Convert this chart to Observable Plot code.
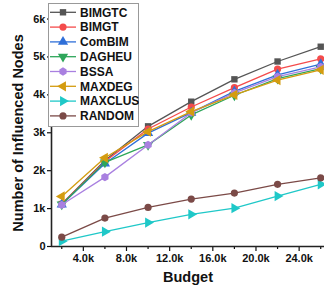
<!DOCTYPE html>
<html>
<head>
<meta charset="utf-8">
<script src="https://cdn.jsdelivr.net/npm/d3@7"></script>
<script src="https://cdn.jsdelivr.net/npm/@observablehq/plot@0.6"></script>
<style>
  html, body { margin: 0; padding: 0; background: #fff; }
  #wrap { position: relative; width: 324px; height: 292px; font-family: "Liberation Sans", Arial, sans-serif; }
  #legend { position: absolute; left: 48px; top: 3px; }
</style>
</head>
<body>
<div id="wrap"></div>
<script>
const budgets = [2000, 6000, 10000, 14000, 18000, 22000, 26000];
const seriesNames = ["BIMGTC", "BIMGT", "ComBIM", "DAGHEU", "BSSA", "MAXDEG", "MAXCLUS", "RANDOM"];
const BIMGTC  = [1120, 2270, 3170, 3820, 4410, 4880, 5270];
const BIMGT   = [1120, 2240, 3100, 3680, 4190, 4680, 4950];
const ComBIM  = [1110, 2190, 2990, 3530, 4090, 4530, 4810];
const DAGHEU  = [1110, 2220, 2680, 3470, 3990, 4430, 4690];
const BSSA    = [1100, 1830, 2680, 3530, 4050, 4480, 4740];
const MAXDEG  = [1320, 2340, 3030, 3560, 4000, 4390, 4660];
const MAXCLUS = [140, 390, 630, 850, 1010, 1330, 1640];
const RANDOM  = [245, 750, 1030, 1250, 1410, 1640, 1810];
const xMajorTicks = [4000, 8000, 12000, 16000, 20000, 24000];
const xMinorTicks = [2000, 6000, 10000, 14000, 18000, 22000, 26000];
const yTicks = [0, 1000, 2000, 3000, 4000, 5000, 6000];
const yTickLabels = ["0", "1k", "2k", "3k", "4k", "5k", "6k"];
const colors = ["#555555", "#f44b4b", "#2f6fd8", "#2ea65a", "#a980e0", "#d49c10", "#1fc8c8", "#7b4a47"];

const values = [BIMGTC, BIMGT, ComBIM, DAGHEU, BSSA, MAXDEG, MAXCLUS, RANDOM];

// custom symbols
const sqrt3 = Math.sqrt(3);
const triDown = { draw(ctx, size) { const y = -Math.sqrt(size / (sqrt3 * 3)); ctx.moveTo(0, -y * 2); ctx.lineTo(-sqrt3 * y, y); ctx.lineTo(sqrt3 * y, y); ctx.closePath(); } };
const triLeft = { draw(ctx, size) { const y = -Math.sqrt(size / (sqrt3 * 3)); ctx.moveTo(y * 2, 0); ctx.lineTo(-y, -sqrt3 * y); ctx.lineTo(-y, sqrt3 * y); ctx.closePath(); } };
const triRight = { draw(ctx, size) { const y = -Math.sqrt(size / (sqrt3 * 3)); ctx.moveTo(-y * 2, 0); ctx.lineTo(y, -sqrt3 * y); ctx.lineTo(y, sqrt3 * y); ctx.closePath(); } };
const hexagon = { draw(ctx, size) { const r = Math.sqrt(size / (1.5 * sqrt3)) * 1.05; for (let i = 0; i < 6; i++) { const a = Math.PI / 6 + i * Math.PI / 3; const px = r * Math.cos(a), py = r * Math.sin(a); if (i === 0) ctx.moveTo(px, py); else ctx.lineTo(px, py); } ctx.closePath(); } };
const symbols = [d3.symbolSquare, d3.symbolCircle, d3.symbolTriangle, triDown, hexagon, triLeft, triRight, d3.symbolCircle];
const radii = [3.6, 3.6, 3.8, 3.8, 3.6, 3.8, 3.8, 3.6];

const rows = [];
seriesNames.forEach((name, i) => {
  budgets.forEach((b, j) => rows.push({ series: name, budget: b, value: values[i][j] }));
});

const marks = [];
seriesNames.forEach((name, i) => {
  const data = rows.filter(d => d.series === name);
  marks.push(Plot.line(data, { x: "budget", y: "value", stroke: colors[i], strokeWidth: 1.3 }));
  marks.push(Plot.dot(data, { x: "budget", y: "value", fill: colors[i], stroke: "none", r: radii[i], symbol: symbols[i] }));
});

const xDomain = [1050, 26350];

const chart = Plot.plot({
  width: 324,
  height: 292,
  marginTop: 3,
  marginRight: 0,
  marginBottom: 46,
  marginLeft: 51,
  style: { fontFamily: '"Liberation Sans", Arial, sans-serif', fontWeight: "bold", fontSize: "11px", color: "#111", background: "white", overflow: "visible" },
  x: { domain: xDomain },
  y: { domain: [0, 6410] },
  marks: [
    Plot.axisX({ ticks: xMinorTicks, tickSize: 3, tickFormat: () => "", label: null, stroke: "#111", strokeWidth: 1.2 }),
    Plot.axisX({ ticks: xMajorTicks, tickSize: 5, tickPadding: 3, tickFormat: d => (d / 1000).toFixed(1) + "k", label: null, fontSize: 11, fill: "#111", stroke: "#111", strokeWidth: 1.2 }),
    Plot.axisY({ ticks: yTicks, tickSize: 4, tickPadding: 2, tickFormat: (d, i) => yTickLabels[yTicks.indexOf(d)], label: null, fontSize: 11, fill: "#111", stroke: "#111", strokeWidth: 1.2 }),
    Plot.ruleY([0], { stroke: "#222", strokeWidth: 1.6 }),
    Plot.ruleX([xDomain[0]], { stroke: "#222", strokeWidth: 1.6 }),
    ...marks,
    Plot.text(["Budget"], { frameAnchor: "bottom", textAnchor: "middle", dy: 35, fontSize: 14.5, fontWeight: "bold", fill: "#111" }),
    Plot.text(["Number of Influenced Nodes"], { frameAnchor: "left", textAnchor: "middle", rotate: -90, dx: -33, dy: 8, fontSize: 14.5, fontWeight: "bold", fill: "#111" })
  ]
});

const wrap = document.getElementById("wrap");
wrap.appendChild(chart);

// legend
const lw = 91, lh = 124;
const leg = d3.select(wrap).append("svg")
  .attr("id", "legend")
  .attr("width", lw).attr("height", lh)
  .style("font-family", '"Liberation Sans", Arial, sans-serif');
leg.append("rect").attr("x", 0.5).attr("y", 0.5).attr("width", lw - 1).attr("height", lh - 1)
  .attr("fill", "white").attr("stroke", "#999").attr("stroke-width", 1);
seriesNames.forEach((name, i) => {
  const cy = 9.3 + i * 14.8;
  const g = leg.append("g");
  g.append("line").attr("x1", 2).attr("x2", 28).attr("y1", cy).attr("y2", cy)
    .attr("stroke", colors[i]).attr("stroke-width", 1.3);
  g.append("path").attr("transform", `translate(15,${cy})`)
    .attr("d", d3.symbol(symbols[i], radii[i] * radii[i] * Math.PI)())
    .attr("fill", colors[i]);
  g.append("text").attr("x", 32).attr("y", cy).attr("dy", "0.36em")
    .attr("font-size", 12).attr("font-weight", "bold").attr("fill", "#111").text(name);
});
</script>
</body>
</html>
